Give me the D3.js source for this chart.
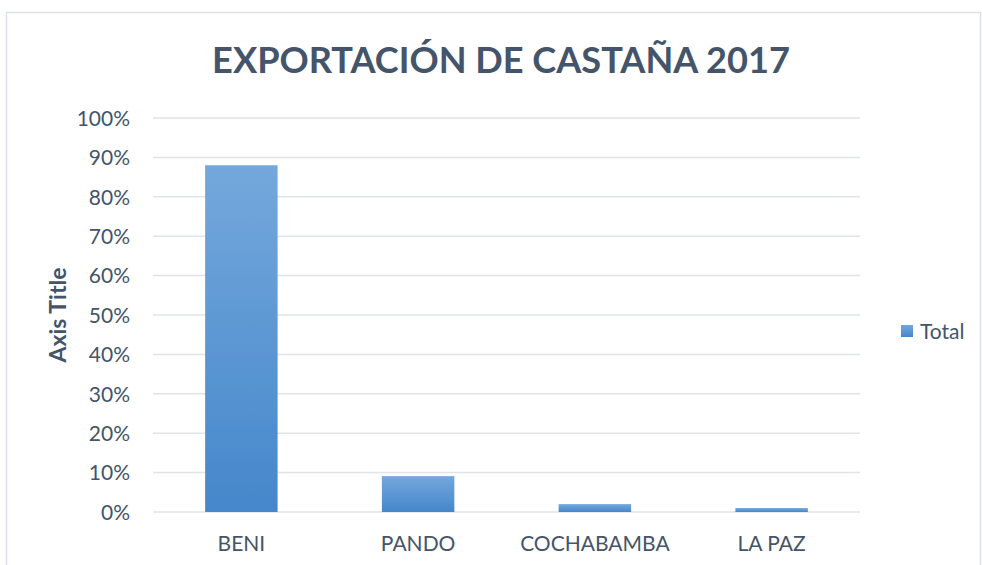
<!DOCTYPE html>
<html><head><meta charset="utf-8">
<script src="https://cdn.jsdelivr.net/npm/d3@7"></script>
<style>
html,body{margin:0;padding:0;background:#fff;}
svg{display:block;font-family:Lato,"Open Sans",sans-serif;}
</style></head>
<body>
<svg id="chart" width="982" height="565"></svg>
<script>
const categories = ["BENI", "PANDO", "COCHABAMBA", "LA PAZ"];
const values = [0.88, 0.091, 0.02, 0.01];
const tickValues = [0, 0.1, 0.2, 0.3, 0.4, 0.5, 0.6, 0.7, 0.8, 0.9, 1.0];
const seriesName = "Total";
const titleText = "EXPORTACIÓN DE CASTAÑA 2017";
const axisTitle = "Axis Title";

const textColor = "#44546a";
const svg = d3.select("#chart");

// chart border
svg.append("rect").attr("x", 6.5).attr("y", 12.5).attr("width", 974).attr("height", 570)
  .attr("fill", "#fff").attr("stroke", "#dde1e6").attr("stroke-width", 1.5);

const defs = svg.append("defs");
const grad = defs.append("linearGradient").attr("id", "barGrad")
  .attr("x1", 0).attr("y1", 0).attr("x2", 0).attr("y2", 1);
grad.append("stop").attr("offset", "0%").attr("stop-color", "#74a8dc");
grad.append("stop").attr("offset", "100%").attr("stop-color", "#4587cb");

const plot = {left: 153, right: 860, top: 118, bottom: 512};

const x = d3.scaleBand().domain(categories).range([plot.left, plot.right]).paddingInner(0.59).paddingOuter(0.295);
const y = d3.scaleLinear().domain([0, 1]).range([plot.bottom, plot.top]);

// gridlines
svg.append("g").selectAll("line").data(tickValues).join("line")
  .attr("x1", plot.left).attr("x2", plot.right)
  .attr("y1", d => y(d)).attr("y2", d => y(d))
  .attr("stroke", "#e0e4e9").attr("stroke-width", 1.5);

// y axis labels
const yAxis = d3.axisLeft(y).tickValues(tickValues).tickFormat(d3.format(".0%")).tickSize(0).tickPadding(0);
const gy = svg.append("g").attr("transform", `translate(130,0)`).call(yAxis);
gy.select(".domain").remove();
gy.selectAll("text").attr("fill", textColor).attr("font-size", 21).attr("font-family", "Lato").attr("dy", "0.35em");

// bars
svg.append("g").selectAll("rect").data(values).join("rect")
  .attr("x", (d, i) => x(categories[i]))
  .attr("width", x.bandwidth())
  .attr("y", d => y(d))
  .attr("height", d => y(0) - y(d))
  .attr("fill", "url(#barGrad)");

// x axis labels
const xAxis = d3.axisBottom(x).tickSize(0).tickPadding(0);
const gx = svg.append("g").attr("transform", `translate(0,${plot.bottom})`).call(xAxis);
gx.select(".domain").remove();
gx.selectAll("text").attr("fill", textColor).attr("font-size", 21).attr("font-family", "Lato")
  .attr("y", 39).attr("dy", 0);

// title
const title = svg.append("text").attr("x", 501).attr("y", 73).attr("text-anchor", "middle")
  .attr("font-weight", "bold").attr("font-size", 42).attr("fill", textColor).text(titleText);
const tw = title.node().getComputedTextLength();
title.attr("font-size", 42 * 578 / tw);

// axis title
svg.append("text").attr("transform", `translate(66,${(plot.top + plot.bottom) / 2}) rotate(-90)`)
  .attr("text-anchor", "middle").attr("font-weight", "bold").attr("font-size", 23)
  .attr("fill", textColor).text(axisTitle);

// legend
const lg = svg.append("g").attr("transform", "translate(901,325)");
lg.append("rect").attr("width", 12).attr("height", 12).attr("fill", "url(#barGrad)");
lg.append("text").attr("x", 19).attr("y", 14).attr("font-size", 21).attr("fill", textColor).text(seriesName);
</script>
</body></html>
